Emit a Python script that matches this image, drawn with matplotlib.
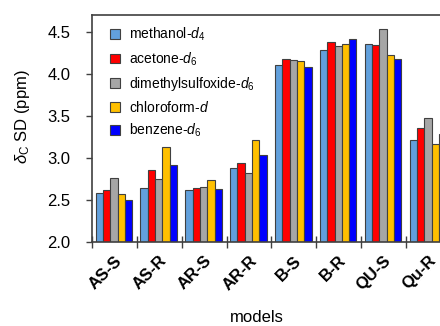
import numpy as np
import matplotlib
matplotlib.use('Agg')
import matplotlib.pyplot as plt

plt.rcParams['font.family'] = ['Liberation Sans', 'DejaVu Sans']
plt.rcParams['mathtext.fontset'] = 'custom'
plt.rcParams['mathtext.rm'] = 'Liberation Sans'
plt.rcParams['mathtext.it'] = 'Liberation Sans:italic'
plt.rcParams['mathtext.bf'] = 'Liberation Sans:bold'

# data
models = ['AS-S', 'AS-R', 'AR-S', 'AR-R', 'B-S', 'B-R', 'QU-S', 'Qu-R']
solvents = ['methanol-$d_4$', 'acetone-$d_6$', 'dimethylsulfoxide-$d_6$',
            'chloroform-$d$', 'benzene-$d_6$']
methanol = [2.58, 2.64, 2.62, 2.88, 4.10, 4.28, 4.35, 3.21]
acetone = [2.615, 2.86, 2.64, 2.94, 4.18, 4.38, 4.345, 3.36]
dmso = [2.76, 2.755, 2.66, 2.825, 4.17, 4.33, 4.53, 3.48]
chloroform = [2.57, 3.13, 2.74, 3.21, 4.15, 4.35, 4.22, 3.16]
benzene = [2.50, 2.91, 2.63, 3.04, 4.08, 4.42, 4.18, 3.29]
series = [methanol, acetone, dmso, chloroform, benzene]
colors = ['#62A0DC', '#FF0000', '#A6A6A6', '#FFC000', '#0000FF']

fig = plt.figure(figsize=(4.4, 3.26), dpi=100)
ax = fig.add_axes([92/440, 1 - 242/326, 348/440, 227/326])

x = np.arange(len(models))
w = 0.163
start = 0.08
for i, (vals, c, lab) in enumerate(zip(series, colors, solvents)):
    ax.bar(x + start + i*w, vals, width=w, align='edge', color=c,
           edgecolor='#404040', linewidth=0.8, label=lab)

ax.set_yticks([2.0, 2.5, 3.0, 3.5, 4.0, 4.5])
ax.set_yticklabels(['2.0', '2.5', '3.0', '3.5', '4.0', '4.5'], fontsize=12)
ax.tick_params(axis='y', direction='out', length=4.5, width=1.0,
               color='#404040', pad=11)

ax.set_xticks(np.arange(len(models) + 1))
ax.set_xticklabels([])
ax.set_xticks(x + 0.5, minor=True)
ax.set_xticklabels(models, minor=True, rotation=45, ha='right',
                   rotation_mode='anchor', fontsize=12, fontweight='bold')
ax.tick_params(axis='x', which='major', direction='inout', length=8,
               width=1.0, color='#404040')
ax.tick_params(axis='x', which='minor', length=0, pad=8)

# the chart is cut off on the right, partway through the last group
ax.set_ylim(2.0, 4.7)
ax.set_xlim(0, 348/44.86)

ax.spines['right'].set_visible(False)
for s in ['left', 'top', 'bottom']:
    ax.spines[s].set_color('#404040')
    ax.spines[s].set_linewidth(1.2)

fig.text(22/440, 1 - 117/326, r'$\delta_\mathrm{C}$ SD (ppm)', rotation=90,
         ha='center', va='center', fontsize=12)
fig.text(257/440, 1 - 317/326, 'models', ha='center', va='center', fontsize=12)

ax.legend(loc='upper left', bbox_to_anchor=(110/440, 1 - 26/326),
          bbox_transform=fig.transFigure, frameon=False, fontsize=10,
          handlelength=0.7, handleheight=0.7, handletextpad=0.7,
          labelspacing=0.5, borderpad=0, borderaxespad=0)

fig.savefig('out.png', dpi=100)
